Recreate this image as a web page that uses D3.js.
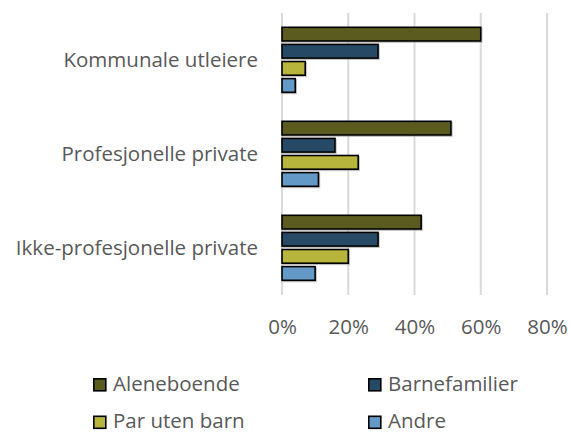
<!DOCTYPE html>
<html><head><meta charset="utf-8">
<script src="https://cdn.jsdelivr.net/npm/d3@7"></script>
<style>body{margin:0;background:#fff}svg{display:block}</style>
</head><body>
<svg id="c" width="571" height="434"></svg>
<script>
const categories = ["Kommunale utleiere","Profesjonelle private","Ikke-profesjonelle private"];
const seriesNames = ["Aleneboende","Barnefamilier","Par uten barn","Andre"];
const aleneboende = [60,51,42];
const barnefamilier = [29,16,29];
const parUtenBarn = [7,23,20];
const andre = [4,11,10];
const tickValues = [0,20,40,60,80];
const colors = ["#5B5B1F","#264966","#B8B53C","#6399C6"];

const seriesValues = [aleneboende,barnefamilier,parUtenBarn,andre];
const svg = d3.select("#c");
const font = "'Open Sans', sans-serif";
const fs = 20.5;
const textCol = "#595959";
const m = {l:282, r:547, t:13, b:295};

const x = d3.scaleLinear().domain([0,80]).range([m.l,m.r]);
const y0 = d3.scaleBand().domain(categories).range([m.t,m.b]);
const y1 = d3.scaleBand().domain(seriesNames).range([14.3,79.3]).paddingInner(0.2);

// gridlines
svg.append("g").selectAll("line").data(tickValues).join("line")
  .attr("x1",d=>x(d)).attr("x2",d=>x(d)).attr("y1",m.t).attr("y2",m.b)
  .attr("stroke","#D9D9D9").attr("stroke-width",2);

// axis labels
const xAxis = d3.axisBottom(x).tickValues(tickValues).tickFormat(d=>d+"%").tickSize(0).tickPadding(0);
const ax = svg.append("g").attr("transform",`translate(0,${334})`).call(xAxis);
ax.select(".domain").remove();
ax.selectAll("text").attr("fill",textCol).attr("font-family",font).attr("font-size",fs).attr("dy",0);

// category labels
const yAxis = d3.axisLeft(y0).tickSize(0).tickPadding(24);
const ay = svg.append("g").attr("transform",`translate(${m.l},0)`).call(yAxis);
ay.select(".domain").remove();
ay.selectAll("text").attr("fill",textCol).attr("font-family",font).attr("font-size",fs).attr("dy","0.32em");

// bars
const data = [];
categories.forEach((c,i)=>seriesNames.forEach((s,j)=>data.push({c,s,v:seriesValues[j][i],col:colors[j]})));
const gb = svg.append("g");
gb.selectAll("rect.sh").data(data).join("rect").attr("class","sh")
  .attr("x",x(0)+1).attr("y",d=>y0(d.c)+y1(d.s)+1.2)
  .attr("width",d=>x(d.v)-x(0)).attr("height",y1.bandwidth())
  .attr("fill","none").attr("stroke","#9a9a9a").attr("stroke-width",1.5).attr("opacity",0.6);
gb.selectAll("rect.b").data(data).join("rect").attr("class","b")
  .attr("x",x(0)).attr("y",d=>y0(d.c)+y1(d.s))
  .attr("width",d=>x(d.v)-x(0)).attr("height",y1.bandwidth())
  .attr("fill",d=>d.col).attr("stroke","#000").attr("stroke-width",1.6);

// legend
const legPos = [[93,378],[368,378],[93,415.5],[368,415.5]];
const lg = svg.append("g").selectAll("g").data(seriesNames).join("g")
  .attr("transform",(d,i)=>`translate(${legPos[i][0]},${legPos[i][1]})`);
lg.append("rect").attr("x",0.8).attr("y",0.8).attr("width",12).attr("height",12)
  .attr("fill",(d,i)=>colors[i]).attr("stroke","#000").attr("stroke-width",1.6);
lg.append("text").attr("x",20).attr("y",12.5)
  .attr("fill",textCol).attr("font-family",font).attr("font-size",fs).text(d=>d);
</script>
</body></html>
